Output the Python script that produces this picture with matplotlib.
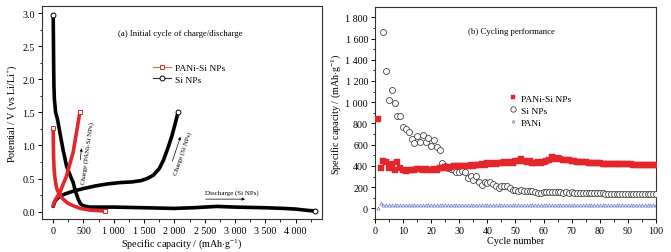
import matplotlib
matplotlib.use("Agg")
import matplotlib.pyplot as plt
from matplotlib.ticker import MultipleLocator

plt.rcParams['font.family'] = ['Liberation Serif', 'DejaVu Serif']
plt.rcParams['mathtext.fontset'] = 'custom'
plt.rcParams['mathtext.rm'] = 'Liberation Serif'
plt.rcParams['mathtext.it'] = 'Liberation Serif:italic'

# ---------------- Panel (a) data ----------------
si_dis_cap = [0, 2, 5, 8, 12, 20, 40, 70, 110, 160, 220, 280, 330, 370, 412, 450, 495,
              600, 1000, 1500, 2000, 2300, 2700, 3000, 3500, 3800, 4000, 4200, 4320]
si_dis_v = [2.97, 2.8, 2.5, 2.2, 1.9, 1.7, 1.5, 1.4, 1.2, 0.95, 0.69, 0.55, 0.44, 0.30, 0.19, 0.12, 0.09,
            0.07, 0.07, 0.06, 0.05, 0.06, 0.08, 0.07, 0.06, 0.05, 0.04, 0.02, 0.01]
si_ch_cap = [0, 30, 100, 200, 330, 500, 700, 900, 1100, 1300, 1450, 1550, 1650, 1750,
             1820, 1900, 1960, 2010, 2060]
si_ch_v = [0.08, 0.16, 0.23, 0.27, 0.31, 0.35, 0.39, 0.42, 0.44, 0.45, 0.47, 0.50, 0.55, 0.65,
           0.78, 0.98, 1.15, 1.32, 1.50]
pani_dis_cap = [0, 3, 8, 15, 30, 56, 100, 165, 240, 330, 450, 605, 850]
pani_dis_v = [1.26, 1.0, 0.8, 0.65, 0.5, 0.36, 0.26, 0.19, 0.13, 0.09, 0.05, 0.025, 0.01]
pani_ch_cap = [0, 30, 110, 220, 330, 385, 440]
pani_ch_v = [0.09, 0.17, 0.29, 0.54, 0.90, 1.20, 1.50]

xticks_a = [0, 500, 1000, 1500, 2000, 2500, 3000, 3500, 4000]
xticklabels_a = ['0', '500', '1 000', '1 500', '2 000', '2 500', '3 000', '3 500', '4 000']
yticks_a = [0.0, 0.5, 1.0, 1.5, 2.0, 2.5, 3.0]
yticklabels_a = ['0.0', '0.5', '1.0', '1.5', '2.0', '2.5', '3.0']

# ---------------- Panel (b) data ----------------
cycles = list(range(1, 101))
pani_si = [842, 380, 449, 434, 380, 417, 364, 434, 380, 361,
           355, 362, 366, 360, 368, 372, 365, 370, 362, 364,
           372, 366, 378, 380, 386, 384, 392, 398, 396, 402,
           398, 404, 400, 410, 404, 412, 408, 418, 412, 424,
           416, 426, 420, 430, 424, 434, 428, 440, 432, 443,
           450, 465, 446, 440, 443, 432, 424, 436, 430, 433,
           446, 459, 487, 466, 471, 462, 458, 452, 455, 449,
           446, 440, 438, 436, 433, 431, 430, 428, 426, 424,
           422, 421, 420, 419, 418, 416, 415, 414, 418, 418,
           416, 412, 410, 408, 408, 410, 408, 410, 411, 411]
si_cap = [None, None, 1660, 1290, 1020, 1115, 992, 873, 873, 763,
          747, 716, 653, 615, 678, 622, 691, 622, 660, 584,
          647, 575, 552, 427, 395, 380, 370, 360, 339, 340,
          349, 345, 286, 302, 270, 308, 251, 223, 251, 239,
          248, 226, 207, 192, 214, 210, 210, 192, 176, 170,
          167, 176, 167, 167, 163, 160, 151, 148, 145, 157,
          157, 155, 154, 152, 152, 150, 149, 150, 148, 150,
          149, 147, 146, 146, 145, 144, 143, 144, 143, 142,
          141, 140, 140, 139, 138, 138, 137, 137, 136, 136,
          136, 135, 135, 135, 134, 134, 134, 133, 133, 133]
pani = [5, 48] + [35] * 20 + [33] * 30 + [32] * 30 + [30] * 18

xticks_b = [0, 10, 20, 30, 40, 50, 60, 70, 80, 90, 100]
yticks_b = [0, 200, 400, 600, 800, 1000, 1200, 1400, 1600, 1800]
yticklabels_b = ['0', '200', '400', '600', '800', '1 000', '1 200', '1 400', '1 600', '1 800']

RED = '#e3262b'
FS_TICK = 7.2
FS_LAB = 7.3

fig = plt.figure(figsize=(6.71, 2.53), dpi=100)
axA = fig.add_axes([0.0621, 0.1304, 0.4173, 0.8419])
axB = fig.add_axes([0.5589, 0.1304, 0.4187, 0.8380])

for ax in (axA, axB):
    ax.tick_params(which='both', direction='out', top=False, right=False,
                   labelsize=FS_TICK, pad=2)
    ax.tick_params(which='major', length=3, width=0.7)
    ax.tick_params(which='minor', length=1.8, width=0.6)
    for s in ax.spines.values():
        s.set_linewidth(0.8)
        s.set_color('#333333')

# ----- panel a -----
lw = 2.6
axA.plot(si_dis_cap, si_dis_v, color='black', lw=lw, solid_capstyle='round')
axA.plot(si_ch_cap, si_ch_v, color='black', lw=lw, solid_capstyle='round')
axA.plot(pani_dis_cap, pani_dis_v, color=RED, lw=lw, solid_capstyle='round')
axA.plot(pani_ch_cap, pani_ch_v, color=RED, lw=lw, solid_capstyle='round')
# end markers
axA.plot([si_dis_cap[0], si_dis_cap[-1], si_ch_cap[-1]],
         [si_dis_v[0], si_dis_v[-1], si_ch_v[-1]], ls='none', marker='o', ms=3.5,
         mfc='white', mec='black', mew=0.7)
axA.plot([pani_dis_cap[0], pani_dis_cap[-1], pani_ch_cap[-1]],
         [pani_dis_v[0], pani_dis_v[-1], pani_ch_v[-1]], ls='none', marker='s', ms=3.2,
         mfc='white', mec=RED, mew=0.7)

axA.set_xlim(-190, 4430)
axA.set_ylim(-0.11, 3.106)
axA.set_xticks(xticks_a)
axA.set_xticklabels(xticklabels_a)
axA.set_yticks(yticks_a)
axA.set_yticklabels(yticklabels_a)
axA.xaxis.set_minor_locator(MultipleLocator(250))
axA.yaxis.set_minor_locator(MultipleLocator(0.25))
axA.set_xlabel('Specific capacity / (mAh$\\cdot$g$^{-1}$)', fontsize=FS_LAB, labelpad=1)
axA.set_ylabel('Potential / V (vs Li/Li$^{+}$)', fontsize=FS_LAB, labelpad=2)

axA.text(0.494, 0.873, '(a) Initial cycle of charge/discharge', transform=axA.transAxes,
         ha='center', va='center', fontsize=6.3)

hA1, = axA.plot([], [], color='#e56a55', lw=0.8, marker='s', ms=3.2, mfc='white', mec=RED, mew=0.7)
hA2, = axA.plot([], [], color='#333333', lw=0.8, marker='o', ms=3.5, mfc='white', mec='black', mew=0.7)
axA.legend([hA1, hA2], ['PANi-Si NPs', 'Si NPs'], loc='upper left',
           bbox_to_anchor=(0.375, 0.76), frameon=False, fontsize=6.8,
           handlelength=1.9, handletextpad=0.4, labelspacing=0.3, borderpad=0.2)

axA.text(563, 0.90, 'Charge (PANi-Si NPs)', rotation=82, ha='center', va='center',
         fontsize=5, rotation_mode='anchor')
axA.annotate('', xy=(475, 1.0), xytext=(440, 0.74),
             arrowprops=dict(arrowstyle='-|>', lw=0.5, color='black', mutation_scale=4))
axA.text(2128, 0.90, 'Charge (Si NPs)', rotation=71, ha='center', va='center',
         fontsize=5, rotation_mode='anchor')
axA.annotate('', xy=(2115, 1.17), xytext=(1950, 0.72),
             arrowprops=dict(arrowstyle='-|>', lw=0.5, color='black', mutation_scale=4))
axA.text(2945, 0.29, 'Discharge (Si NPs)', ha='center', va='center', fontsize=5)
axA.annotate('', xy=(3210, 0.19), xytext=(2470, 0.19),
             arrowprops=dict(arrowstyle='-|>', lw=0.5, color='black', mutation_scale=4))

# ----- panel b -----
si_x = [c for c, v in zip(cycles, si_cap) if v is not None]
si_y = [v for v in si_cap if v is not None]
axB.plot(cycles, pani, ls='none', marker='^', ms=2.2, mfc='white', mec='#7d8ed0', mew=0.6,
         label='PANi', zorder=2)
axB.plot(si_x, si_y, ls='none', marker='o', ms=4.3, mfc='white', mec='#444444', mew=0.6,
         label='Si NPs', zorder=3)
axB.plot(cycles, pani_si, ls='none', marker='s', ms=3.9, mfc=RED, mec=RED, mew=0.3,
         label='PANi-Si NPs', zorder=4)

axB.set_xlim(0, 100)
axB.set_ylim(-100, 1897)
axB.set_xticks(xticks_b)
axB.set_yticks(yticks_b)
axB.set_yticklabels(yticklabels_b)
axB.xaxis.set_minor_locator(MultipleLocator(5))
axB.yaxis.set_minor_locator(MultipleLocator(100))
axB.set_xlabel('Cycle number', fontsize=FS_LAB, labelpad=1)
axB.set_ylabel('Specific capacity / (mAh$\\cdot$g$^{-1}$)', fontsize=FS_LAB, labelpad=2)
axB.text(0.484, 0.887, '(b) Cycling performance', transform=axB.transAxes,
         ha='center', va='center', fontsize=6.3)

h, l = axB.get_legend_handles_labels()
order = [2, 1, 0]
axB.legend([h[i] for i in order], [l[i] for i in order], loc='upper left',
           bbox_to_anchor=(0.455, 0.62), frameon=False, fontsize=6.8,
           handlelength=0.8, handletextpad=0.4, labelspacing=0.35, borderpad=0.2,
           markerscale=0.9)

fig.savefig('out.png', dpi=100)
